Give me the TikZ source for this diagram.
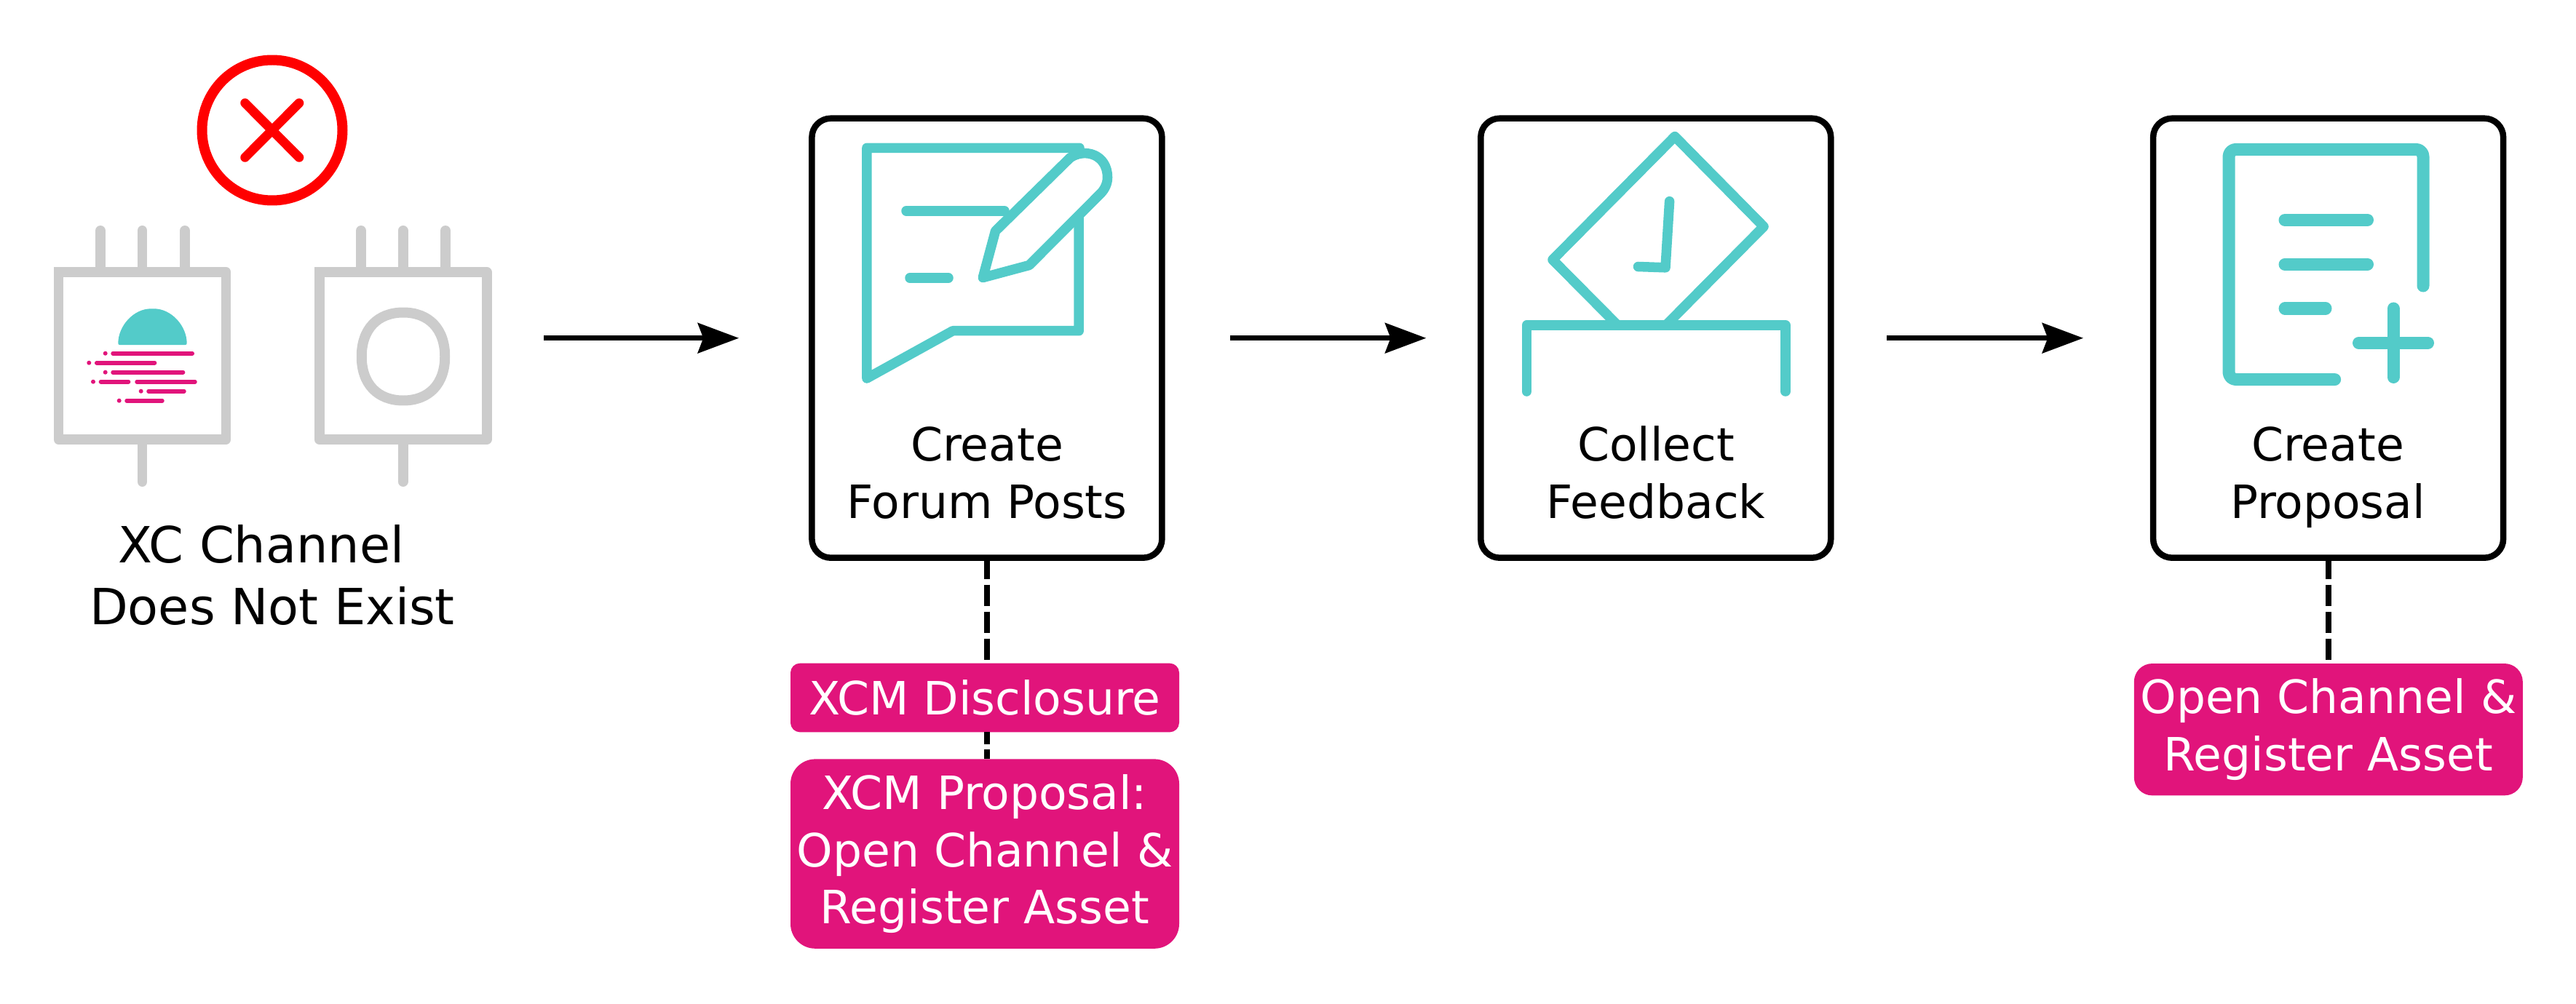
\documentclass[tikz,border=0pt]{standalone}
\usepackage{fontspec}
\setmainfont{DejaVu Sans}
\usetikzlibrary{arrows.meta}
\definecolor{moonteal}{HTML}{53CBC9}
\definecolor{moonpink}{HTML}{E1147B}
\definecolor{chipgray}{HTML}{CCCCCC}
\newcommand{\boxfont}{\fontsize{17.95}{22.3}\selectfont}
\tikzset{
  stepbox/.style={draw=black,line width=2.42pt,rounded corners=0.26cm,minimum width=4.81cm,minimum height=6.04cm,inner sep=0,outer sep=0},
  steptext/.style={font=\boxfont,align=center,anchor=base},
  tag/.style={fill=moonpink,text=white,font=\boxfont,align=center,inner sep=0,outer sep=0,minimum width=5.34cm},
  flowline/.style={-{Stealth[length=16pt,width=11.7pt,inset=2.1pt]},line width=2.1pt},
  tagline/.style={line width=2.28pt,dash pattern=on 8.42pt off 2.1pt},
  icon/.style={draw=moonteal,line width=3.85pt,line cap=round,line join=round},
  chipframe/.style={draw=chipgray,line width=3.98pt,line cap=rect,line join=round},
  chippin/.style={draw=chipgray,line width=3.98pt,line cap=round}
}
\begin{document}
\begin{tikzpicture}[x=1cm,y=-1cm]
    \useasboundingbox (0,0) rectangle (35.39,13.8);

    % red cross above the chips
    \draw [color=red,line width=3.98pt] (3.74,1.79) circle (0.965);
    \draw [color=red,line width=3.6pt,line cap=round] (3.366,1.416) -- (4.11,2.164);
    \draw [color=red,line width=3.6pt,line cap=round] (4.11,1.416) -- (3.366,2.164);

    % the two chips
    \foreach \cx in {1.955,5.535} {
        \foreach \px in {-0.575,0,0.585}
            \draw [chippin] (\cx+\px,3.17) -- (\cx+\px,3.74);
        \draw [chippin] (\cx,6.04) -- (\cx,6.62);
        \draw [chipframe] (\cx-1.15,3.74) -- (\cx+1.15,3.74) -- (\cx+1.15,6.04) -- (\cx-1.15,6.04) -- (\cx-1.15,3.74);
    }
    \fill [color=moonteal,rounded corners=0.02cm] (1.623,4.74) .. controls (1.623,4.48) and (1.835,4.243) .. (2.095,4.243) .. controls (2.355,4.243) and (2.567,4.48) .. (2.567,4.74) -- cycle;
    \foreach \ry/\dx/\la/\lb in {4.857/1.447/1.551/2.642,4.987/1.223/1.328/2.125,5.117/1.447/1.551/2.515,5.247/1.28/1.385/1.765,5.377/1.937/2.041/2.529,5.507/1.637/1.741/2.229} {
        \fill [color=moonpink] (\dx,\ry) circle (0.03);
        \draw [color=moonpink,line width=1.62pt,line cap=round] (\la,\ry) -- (\lb,\ry);
    }
    \draw [color=moonpink,line width=1.62pt,line cap=round] (1.881,5.247) -- (2.679,5.247);
    \draw [draw=chipgray,line width=3.98pt] (5.54,4.295) .. controls (5.895,4.295) and (6.1125,4.525) .. (6.1125,4.9) .. controls (6.1125,5.275) and (5.895,5.505) .. (5.54,5.505) .. controls (5.185,5.505) and (4.9675,5.275) .. (4.9675,4.9) .. controls (4.9675,4.525) and (5.185,4.295) .. (5.54,4.295) -- cycle;

    \node [font=\fontsize{19.5}{24.2}\selectfont,align=center,anchor=base] (chiptext) at (3.74,8.587) {XC Channel\hspace*{0.3cm}\\Does Not Exist};

    % step boxes
    \node [stepbox] (forumbox) at (13.559,4.647) {};
    \node [stepbox] (feedbackbox) at (22.748,4.647) {};
    \node [stepbox] (proposalbox) at (31.986,4.647) {};
    \node [steptext] (forumtext) at (13.56,7.12) {Create\\Forum Posts};
    \node [steptext] (feedbacktext) at (22.75,7.12) {Collect\\Feedback};
    \node [steptext] (proposaltext) at (31.98,7.12) {Create\\Proposal};

    % forum icon
    \draw [icon] (14.83,2.033) -- (11.909,2.033) -- (11.909,5.2) -- (13.09,4.547) -- (14.822,4.547) -- (14.822,3.0);
    \draw [icon] (12.45,2.898) -- (13.80,2.898);
    \draw [icon] (12.50,3.82) -- (13.03,3.82);
    \draw [icon] (13.503,3.816) -- (13.675,3.176) -- (14.70,2.17) .. controls (14.90,2.03) and (15.215,2.12) .. (15.215,2.44) .. controls (15.215,2.52) and (15.18,2.60) .. (15.12,2.66) -- (14.14,3.645) -- cycle;

    % ballot icon
    \draw [icon] (22.223,4.47) -- (21.33,3.57) -- (23.009,1.876) -- (24.23,3.114) -- (22.887,4.47);
    \draw [icon] (20.973,5.38) -- (20.973,4.47) -- (24.53,4.47) -- (24.53,5.38);
    \draw [icon] (22.936,2.767) -- (22.88,3.678) -- (22.505,3.665);

    % document icon
    \draw [icon,line width=4.84pt,rounded corners=0.1cm] (33.29,3.93) -- (33.29,2.053) -- (30.62,2.053) -- (30.62,5.216) -- (32.076,5.216);
    \draw [icon,line width=4.84pt] (31.39,3.024) -- (32.525,3.024);
    \draw [icon,line width=4.84pt] (31.39,3.633) -- (32.525,3.633);
    \draw [icon,line width=4.84pt] (31.39,4.24) -- (31.95,4.24);
    \draw [icon,line width=4.84pt] (32.405,4.714) -- (33.355,4.714);
    \draw [icon,line width=4.84pt] (32.88,4.24) -- (32.88,5.185);

    % pink tags
    \node [tag,minimum height=0.947cm,rounded corners=0.13cm] (disclosure) at (13.53,9.59) {XCM Disclosure};
    \node [tag,minimum height=2.604cm,rounded corners=0.34cm] (xcmproposal) at (13.53,11.736) {XCM Proposal:\\Open Channel \&\\Register Asset};
    \node [tag,minimum height=1.813cm,rounded corners=0.25cm] (channeltag) at (31.988,10.027) {Open Channel \&\\Register Asset};

    % connectors
    \coordinate (chipend) at (7.47,4.647);
    \draw [flowline,shorten >=1.003cm] (chipend) -- (forumbox.west);
    \draw [flowline,shorten <=0.94cm,shorten >=0.75cm] (forumbox.east) -- (feedbackbox.west);
    \draw [flowline,shorten <=0.77cm,shorten >=0.96cm] (feedbackbox.east) -- (proposalbox.west);
    \draw [tagline] (forumbox.south) -- (forumbox.south |- disclosure.north);
    \draw [tagline,dash phase=3.8pt] (forumbox.south |- disclosure.south) -- (forumbox.south |- xcmproposal.north);
    \draw [tagline] (proposalbox.south) -- (proposalbox.south |- channeltag.north);
\end{tikzpicture}
\end{document}
